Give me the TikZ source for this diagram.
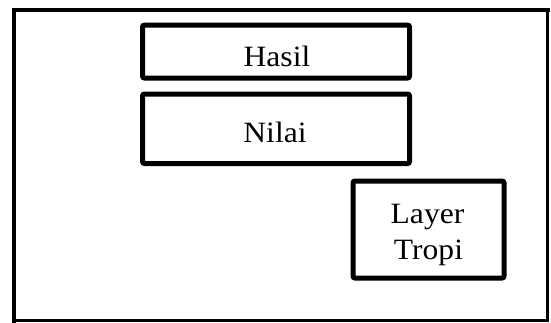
\documentclass[tikz,border=0pt]{standalone}
\usepackage{fontspec}
\setmainfont{Liberation Serif}[FakeStretch=1.07]
\begin{document}
\begin{tikzpicture}[x=1pt,y=-1pt,
  box/.style={draw=black,line width=5pt,rounded corners=2pt,inner sep=0pt,minimum width=#1},
  label/.style={font=\fontsize{29.5}{36}\selectfont,inner sep=0pt,anchor=base},
  frame/.style={draw=black,line cap=rect}]
\useasboundingbox (0,0) rectangle (551,322);
% outer frame
\draw[frame,line width=4pt] (14,320.5) -- (14,10);
\draw[frame,line width=4pt] (14,10) -- (547.5,10);
\draw[frame,line width=3pt] (547.5,10) -- (547.5,320.5);
\draw[frame,line width=2.5pt] (547.5,320.5) -- (14,320.5);
% boxes
\node[box=267pt,minimum height=53pt] (hasil) at (276,51.5) {};
\node[box=267pt,minimum height=69.5pt] (nilai) at (276,128.75) {};
\node[box=151pt,minimum height=97pt] (layer) at (428.5,229.5) {};
% labels
\node[label] (hasiltxt) at (277,66) {Hasil};
\node[label] (nilaitxt) at (275,142) {Nilai};
\node[label] (layertxt) at (427.5,223) {Layer};
\node[label] (tropitxt) at (428.5,259) {Tropi};
\end{tikzpicture}
\end{document}
